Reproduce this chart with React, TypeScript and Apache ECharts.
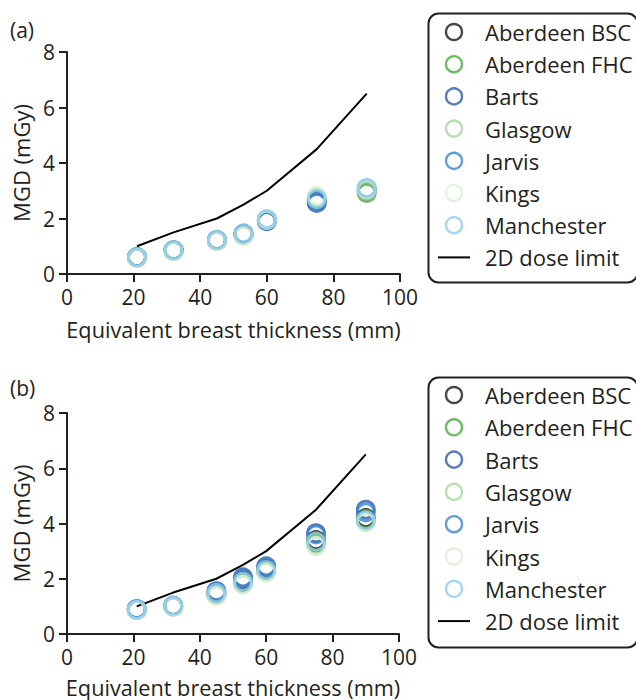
import React, { useEffect, useRef } from "react";
import * as echarts from "echarts";

const thickness = [21, 32, 45, 53, 60, 75, 90];
const doseLimit = [1.0, 1.5, 2.0, 2.5, 3.0, 4.5, 6.5];

const siteNames = ["Aberdeen BSC", "Aberdeen FHC", "Barts", "Glasgow", "Jarvis", "Kings", "Manchester"];
const siteColors = ["#1a1a1a", "#4aaa3c", "#2e5aa8", "#a8d5a0", "#3b86cc", "#dcefd8", "#8fcdec"];
const limitName = "2D dose limit";

// Panel (a)
const aAberdeenBSC = [0.6, 0.85, 1.2, 1.42, 1.95, 2.65, 3.0];
const aAberdeenFHC = [0.6, 0.85, 1.2, 1.4, 1.93, 2.65, 2.92];
const aBarts = [0.6, 0.84, 1.22, 1.45, 1.9, 2.56, 3.05];
const aGlasgow = [0.58, 0.83, 1.2, 1.38, 1.95, 2.75, 3.0];
const aJarvis = [0.6, 0.85, 1.22, 1.45, 1.92, 2.62, 3.08];
const aKings = [0.58, 0.82, 1.18, 1.37, 1.95, 2.82, 3.05];
const aManchester = [0.6, 0.86, 1.23, 1.46, 1.98, 2.7, 3.1];

// Panel (b)
const bAberdeenBSC = [0.88, 1.0, 1.45, 1.95, 2.35, 3.4, 4.2];
const bAberdeenFHC = [0.87, 1.0, 1.42, 1.85, 2.28, 3.3, 4.15];
const bBarts = [0.9, 1.02, 1.55, 2.05, 2.45, 3.65, 4.5];
const bGlasgow = [0.88, 1.0, 1.4, 1.8, 2.25, 3.2, 4.05];
const bJarvis = [0.9, 1.02, 1.52, 2.0, 2.42, 3.6, 4.4];
const bKings = [0.86, 0.98, 1.38, 1.78, 2.22, 3.18, 4.05];
const bManchester = [0.88, 1.02, 1.48, 1.9, 2.32, 3.35, 4.12];

const panelA = [aAberdeenBSC, aAberdeenFHC, aBarts, aGlasgow, aJarvis, aKings, aManchester];
const panelB = [bAberdeenBSC, bAberdeenFHC, bBarts, bGlasgow, bJarvis, bKings, bManchester];

const xTicks = [0, 20, 40, 60, 80, 100];
const yTicks = [0, 2, 4, 6, 8];

const FONT = "Open Sans";
const TEXT = "#231f20";

function pairs(ys: number[]) {
  return thickness.map((x, i) => [x, ys[i]]);
}

export default function App() {
  const ref = useRef<HTMLDivElement>(null);
  useEffect(() => {
    if (!ref.current) return;
    const chart = echarts.init(ref.current, null, { renderer: "svg" });

    const mkX = (gi: number, gap: number) => ({
      type: "value",
      gridIndex: gi,
      min: xTicks[0],
      max: xTicks[xTicks.length - 1],
      interval: 20,
      name: "Equivalent breast thickness (mm)",
      nameLocation: "middle",
      nameGap: gap,
      nameTextStyle: { fontFamily: FONT, fontSize: 21.7, color: TEXT },
      axisLine: { show: true, lineStyle: { color: TEXT, width: 2 } },
      axisTick: { show: true, length: 8, lineStyle: { color: TEXT, width: 2 } },
      axisLabel: { fontFamily: FONT, fontSize: 21, color: TEXT, margin: 12 },
      splitLine: { show: false },
    });
    const mkY = (gi: number) => ({
      type: "value",
      gridIndex: gi,
      min: yTicks[0],
      max: yTicks[yTicks.length - 1],
      interval: 2,
      name: "MGD (mGy)",
      nameLocation: "middle",
      nameGap: 32,
      nameTextStyle: { fontFamily: FONT, fontSize: 22, color: TEXT },
      axisLine: { show: true, lineStyle: { color: TEXT, width: 2 } },
      axisTick: { show: true, length: 8, lineStyle: { color: TEXT, width: 2 } },
      axisLabel: { fontFamily: FONT, fontSize: 21, color: TEXT, margin: 12 },
      splitLine: { show: false },
    });

    const series: any[] = [];
    [panelA, panelB].forEach((panel, gi) => {
      series.push({
        type: "line",
        name: limitName,
        xAxisIndex: gi,
        yAxisIndex: gi,
        data: pairs(doseLimit),
        symbol: "none",
        lineStyle: { color: "#000", width: 2 },
        itemStyle: { color: "#000" },
        z: 1,
      });
      panel.forEach((vals, si) => {
        series.push({
          type: "scatter",
          name: siteNames[si],
          xAxisIndex: gi,
          yAxisIndex: gi,
          data: pairs(vals),
          symbol: "circle",
          symbolSize: 17,
          itemStyle: { color: "rgba(255,255,255,0)", borderColor: siteColors[si], borderWidth: 2.8 },
          z: 2,
        });
      });
    });

    const legendData: any[] = [
      ...siteNames.map((n) => ({ name: n })),
      {
        name: limitName,
        itemStyle: { color: "rgba(0,0,0,0)", borderColor: "rgba(0,0,0,0)", borderWidth: 0 },
      },
    ];
    const mkLegend = (top: number, gap: number) => ({
      orient: "vertical",
      left: 437,
      top,
      padding: 0,
      itemWidth: 32,
      itemHeight: 16,
      itemGap: gap,
      data: legendData,
      selectedMode: false,
      itemStyle: { borderWidth: 2.4 },
      lineStyle: { width: 2, color: "#000" },
      textStyle: { fontFamily: FONT, fontSize: 22, color: TEXT, lineHeight: 18, padding: [0, 0, 0, 10] },
    });

    const option: any = {
      animation: false,
      backgroundColor: "#fff",
      grid: [
        { left: 67, top: 52, width: 333, height: 222 },
        { left: 67, top: 413, width: 332, height: 221 },
      ],
      xAxis: [mkX(0, 44), mkX(1, 42)],
      yAxis: [mkY(0), mkY(1)],
      legend: [mkLegend(21, 10.2), mkLegend(384, 10.3)],
      series,
      graphic: [
        { type: "rect", left: 426, top: 11, shape: { width: 209, height: 269, r: 10 }, style: { fill: "none", stroke: TEXT, lineWidth: 2 } },
        { type: "rect", left: 426, top: 375, shape: { width: 209, height: 270, r: 10 }, style: { fill: "none", stroke: TEXT, lineWidth: 2 } },
        { type: "text", left: 10, top: 19, style: { text: "(a)", fontFamily: FONT, fontSize: 21, fill: TEXT } },
        { type: "text", left: 10, top: 377, style: { text: "(b)", fontFamily: FONT, fontSize: 21, fill: TEXT } },
      ],
    };
    chart.setOption(option);
    return () => chart.dispose();
  }, []);
  return <div ref={ref} style={{ position: "absolute", left: 0, top: 0, width: 636, height: 700 }} />;
}
